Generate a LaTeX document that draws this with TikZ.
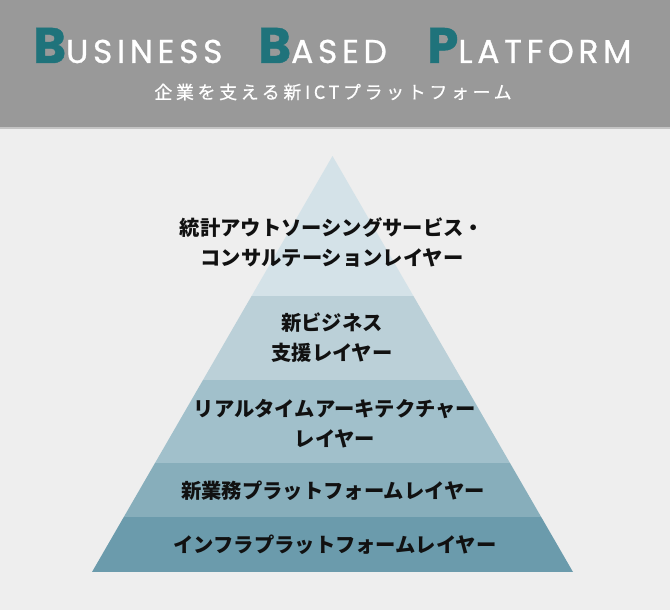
\documentclass[tikz,border=0pt]{standalone}
\usepackage{fontspec}
\newfontfamily\jpfont{Noto Sans CJK JP}
\newfontfamily\titlefont{Poppins}
\definecolor{bbgray}{HTML}{999999}
\definecolor{bbline}{HTML}{C4C4C4}
\definecolor{bbback}{HTML}{EEEEEE}
\definecolor{bbteal}{HTML}{1F737B}
\definecolor{bblayerA}{HTML}{D4E2E8}
\definecolor{bblayerB}{HTML}{BBD0D8}
\definecolor{bblayerC}{HTML}{A1C0CB}
\definecolor{bblayerD}{HTML}{87AEBB}
\definecolor{bblayerE}{HTML}{6B9BAC}
\definecolor{bbtext}{HTML}{111111}
\usetikzlibrary{positioning}
\tikzset{
  titleword/.style={anchor=base west, inner sep=0pt, text=white,
                    font=\titlefont\fontsize{33}{33}\selectfont\addfontfeature{LetterSpace=14,FakeBold=0.8}},
  subtitle/.style={inner sep=0pt, text=white,
                   font=\jpfont\fontsize{18}{18}\selectfont\addfontfeature{LetterSpace=20,FakeBold=0.6}},
  layertext/.style={inner sep=0pt, text=bbtext, align=center,
                    font=\jpfont\bfseries\fontsize{20.3}{30}\selectfont},
}
\newcommand{\initialcap}[1]{{\fontsize{50}{50}\selectfont\bfseries\color{bbteal}#1}}

\begin{document}
\begin{tikzpicture}[x=1pt, y=-1pt]
\useasboundingbox (0,0) rectangle (670,610);

% --- Background and header band ---
\fill[bbback] (0,0) rectangle (670,610);
\fill[bbgray] (0,0) rectangle (670,128);
\fill[bbline] (0,127) rectangle (670,129);

% Title
\node[titleword] (wordbusiness) at (33,63) {\initialcap{B}USINESS};
\node[titleword] (wordbased) at (258,63) {\initialcap{B}ASED};
\node[titleword] (wordplatform) at (427,63) {\initialcap{P}LATFORM};
\node[subtitle] (subtitle) at (333,92) {企業を支える新ICTプラットフォーム};

% --- Pyramid ---
\begin{scope}
  \clip (332.5,156) -- (573,572) -- (92,572) -- cycle;
  \fill[bblayerA] (80,150) rectangle (590,296);
  \fill[bblayerB] (80,296) rectangle (590,379.5);
  \fill[bblayerC] (80,379.5) rectangle (590,462.5);
  \fill[bblayerD] (80,462.5) rectangle (590,517);
  \fill[bblayerE] (80,517) rectangle (590,572);
\end{scope}

% Layer labels
\node[layertext] (layerstats) at (332,242)
      {統計アウトソーシングサービス・\\コンサルテーションレイヤー};
\node[layertext] (layerbiz) at (332,338) {新ビジネス\\支援レイヤー};
\node[layertext] (layerrealtime) at (335,424)
      {リアルタイムアーキテクチャー\\レイヤー};
\node[layertext] (layerwork) at (333,491) {新業務プラットフォームレイヤー};
\node[layertext] (layerinfra) at (335,545) {インフラプラットフォームレイヤー};

\end{tikzpicture}
\end{document}
